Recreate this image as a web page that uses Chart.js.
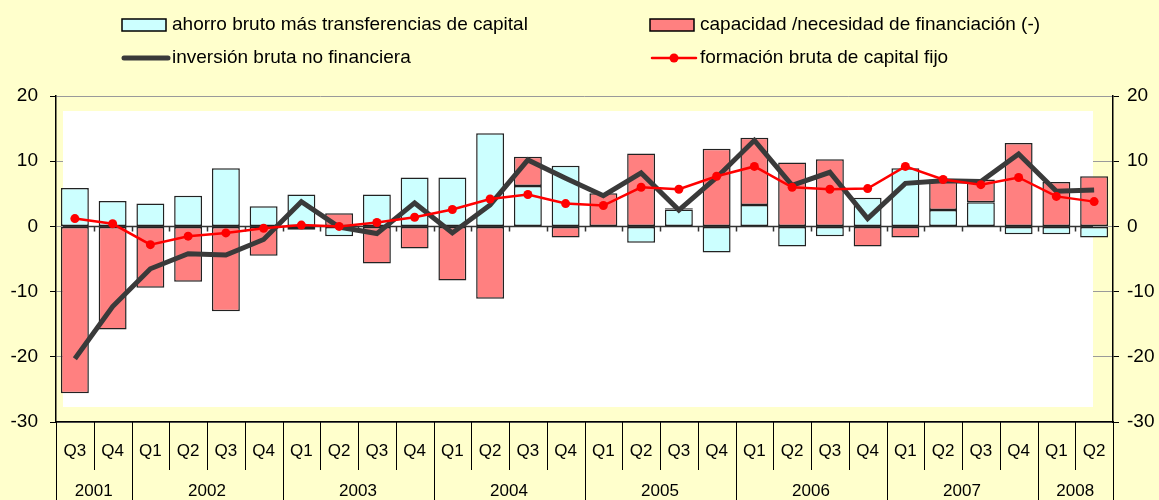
<!DOCTYPE html>
<html>
<head>
<meta charset="utf-8">
<title>Ahorro, inversión y capacidad de financiación</title>
<script src="https://cdn.jsdelivr.net/npm/chart.js@4.4.1/dist/chart.umd.min.js"></script>
<style>
  body { margin: 0; background: #ffffcc; }
  #wrap { width: 1159px; height: 500px; position: relative; }
</style>
</head>
<body>
<div id="wrap"><canvas id="chart"></canvas></div>
<script>
// quarters 2001 Q3 .. 2008 Q2
const quarters = ['Q3', 'Q4',
  'Q1', 'Q2', 'Q3', 'Q4',
  'Q1', 'Q2', 'Q3', 'Q4',
  'Q1', 'Q2', 'Q3', 'Q4',
  'Q1', 'Q2', 'Q3', 'Q4',
  'Q1', 'Q2', 'Q3', 'Q4',
  'Q1', 'Q2', 'Q3', 'Q4',
  'Q1', 'Q2'];
const years = ['2001', '2002', '2003', '2004', '2005', '2006', '2007', '2008'];
const quartersPerYear = [2, 4, 4, 4, 4, 4, 4, 2];

const ahorro = [5.9, 3.9, 3.5, 4.7, 8.9, 3.1, 4.9, -1.5, 4.9, 7.5, 7.5, 14.3, 6.2, 9.3,
  0, -2.5, 2.6, -4.0, 3.3, -3.1, -1.5, 4.4, 8.9, 2.5, 3.7, -1.2, -1.2, -1.7];
const capacidad = [-25.6, -15.8, -9.4, -8.5, -13.0, -4.5, -0.5, 2.0, -5.7, -3.4, -8.3, -11.1, 4.5, -1.7,
  5.1, 11.2, 0.2, 11.9, 10.3, 9.8, 10.3, -3.1, -1.7, 4.7, 3.5, 12.8, 6.8, 7.7];
const inversion = [-20.3, -12.3, -6.5, -4.2, -4.4, -2.0, 3.8, -0.1, -1.1, 3.6, -1.0, 3.3, 10.2, 7.4,
  4.7, 8.2, 2.5, 7.5, 13.2, 6.3, 8.3, 1.2, 6.6, 7.0, 6.9, 11.1, 5.4, 5.6];
const formacion = [1.2, 0.4, -2.8, -1.5, -1.0, -0.3, 0.2, 0.0, 0.6, 1.4, 2.6, 4.2, 4.9, 3.5,
  3.2, 6.0, 5.7, 7.7, 9.2, 6.0, 5.7, 5.8, 9.2, 7.2, 6.4, 7.5, 4.6, 3.8];

const FONT = "'Liberation Sans', Arial, sans-serif";
Chart.defaults.font.family = FONT;
Chart.defaults.color = '#000';

// white inner panel, zero line and the small ticks on it
const panelPlugin = {
  id: 'panel',
  beforeDatasetsDraw(chart) {
    const { ctx, chartArea: a, scales } = chart;
    ctx.save();
    ctx.fillStyle = '#ffffff';
    ctx.fillRect(a.left + 7, a.top + 15, a.right - a.left - 27, a.bottom - a.top - 30);
    const y0 = Math.round(scales.y.getPixelForValue(0)) + 0.5;
    ctx.strokeStyle = '#333';
    ctx.lineWidth = 1.5;
    ctx.beginPath();
    ctx.moveTo(a.left + 7, y0);
    ctx.lineTo(a.right - 20, y0);
    const w = (a.right - a.left) / quarters.length;
    for (let i = 1; i < quarters.length; i++) {
      const x = Math.round(a.left + i * w) + 0.5;
      ctx.moveTo(x, y0);
      ctx.lineTo(x, y0 + 5);
    }
    ctx.stroke();
    ctx.restore();
  }
};

// quarter / year table under the plot
const tablePlugin = {
  id: 'table',
  afterDraw(chart) {
    const { ctx, chartArea: a } = chart;
    const w = (a.right - a.left) / quarters.length;
    const yearEdges = [0];
    quartersPerYear.forEach(n => yearEdges.push(yearEdges[yearEdges.length - 1] + n));
    ctx.save();
    ctx.strokeStyle = '#000';
    ctx.lineWidth = 1;
    ctx.beginPath();
    for (let i = 0; i <= quarters.length; i++) {
      const x = Math.round(a.left + i * w) + 0.5;
      const full = yearEdges.includes(i);
      ctx.moveTo(x, a.bottom);
      ctx.lineTo(x, full ? chart.height : a.bottom + 48);
    }
    ctx.stroke();
    ctx.font = '17px ' + FONT;
    ctx.fillStyle = '#000';
    ctx.textAlign = 'center';
    ctx.textBaseline = 'middle';
    years.forEach((yr, k) => {
      const cx = a.left + (yearEdges[k] + yearEdges[k + 1]) / 2 * w;
      ctx.fillText(yr, cx, a.bottom + 69);
    });
    ctx.restore();
  }
};

// two-column legend in the top band
const legendPlugin = {
  id: 'legend2',
  afterDraw(chart) {
    const { ctx } = chart;
    const ds = chart.data.datasets;
    const slots = [
      { x: 122, y: 25 }, { x: 650, y: 25 }, { x: 122, y: 58 }, { x: 650, y: 58 }
    ];
    const byOrder = [2, 3, 1, 0]; // ahorro, capacidad, inversión, formación
    ctx.save();
    ctx.font = '19px ' + FONT;
    ctx.textBaseline = 'middle';
    ctx.textAlign = 'left';
    byOrder.forEach((idx, k) => {
      const d = ds[idx];
      const s = slots[k];
      if (d.type === 'line') {
        ctx.strokeStyle = d.borderColor;
        ctx.lineWidth = d.borderWidth;
        ctx.lineCap = 'round';
        ctx.beginPath();
        ctx.moveTo(s.x + 2, s.y);
        ctx.lineTo(s.x + 46, s.y);
        ctx.stroke();
        if (d.pointRadius > 0) {
          ctx.fillStyle = d.borderColor;
          ctx.beginPath();
          ctx.arc(s.x + 24, s.y, d.pointRadius, 0, Math.PI * 2);
          ctx.fill();
        }
      } else {
        ctx.fillStyle = d.backgroundColor;
        ctx.fillRect(s.x, s.y - 6, 44, 12);
        ctx.strokeStyle = '#000';
        ctx.lineWidth = 1.5;
        ctx.strokeRect(s.x, s.y - 6, 44, 12);
      }
      ctx.fillStyle = '#000';
      ctx.fillText(d.label, s.x + 50, s.y);
    });
    ctx.restore();
  }
};

const ctx = document.getElementById('chart').getContext('2d');
new Chart(ctx, {
  type: 'bar',
  data: {
    labels: quarters,
    datasets: [
      {
        type: 'line',
        label: 'formación bruta de capital fijo',
        data: formacion,
        stack: 'fbcf',
        order: 0,
        borderColor: '#ff0000',
        backgroundColor: '#ff0000',
        borderWidth: 2.5,
        pointRadius: 4.5,
        pointBackgroundColor: '#ff0000',
        pointBorderWidth: 0,
        tension: 0
      },
      {
        type: 'line',
        label: 'inversión bruta no financiera',
        data: inversion,
        stack: 'inv',
        order: 1,
        borderColor: '#3a3a3a',
        backgroundColor: '#3a3a3a',
        borderWidth: 5,
        pointRadius: 0,
        borderJoinStyle: 'miter',
        tension: 0
      },
      {
        label: 'ahorro bruto más transferencias de capital',
        data: ahorro,
        stack: 'bars',
        order: 2,
        backgroundColor: '#ccffff',
        borderColor: '#222',
        borderWidth: 1.5,
        borderSkipped: false,
        barPercentage: 0.74,
        categoryPercentage: 1
      },
      {
        label: 'capacidad /necesidad de financiación (-)',
        data: capacidad,
        stack: 'bars',
        order: 3,
        backgroundColor: '#ff8080',
        borderColor: '#222',
        borderWidth: 1.5,
        borderSkipped: false,
        barPercentage: 0.74,
        categoryPercentage: 1
      }
    ]
  },
  options: {
    responsive: true,
    maintainAspectRatio: false,
    animation: false,
    layout: { padding: { top: 96, right: 0, left: 0, bottom: 0 } },
    plugins: {
      legend: { display: false },
      tooltip: { enabled: false }
    },
    scales: {
      x: {
        stacked: true,
        grid: { display: true, drawOnChartArea: false, drawTicks: false },
        border: { color: '#000', width: 1.5 },
        ticks: { font: { size: 17 }, padding: 19, maxRotation: 0, autoSkip: false },
        afterFit(scale) { scale.height = 78; }
      },
      y: {
        stacked: true,
        position: 'left',
        min: -30,
        max: 20,
        ticks: { stepSize: 10, font: { size: 19 }, padding: 12 },
        grid: { color: '#9a9a9a', lineWidth: 1, tickColor: '#000', tickLength: 6 },
        border: { color: '#000', width: 1.5 },
        afterFit(scale) { scale.width = 56; }
      },
      y2: {
        position: 'right',
        min: -30,
        max: 20,
        ticks: { stepSize: 10, font: { size: 19 }, padding: 8 },
        grid: { drawOnChartArea: false, tickColor: '#000', tickLength: 6 },
        border: { color: '#000', width: 1.5 },
        afterFit(scale) { scale.width = 46; }
      }
    }
  },
  plugins: [panelPlugin, tablePlugin, legendPlugin]
});
</script>
</body>
</html>
